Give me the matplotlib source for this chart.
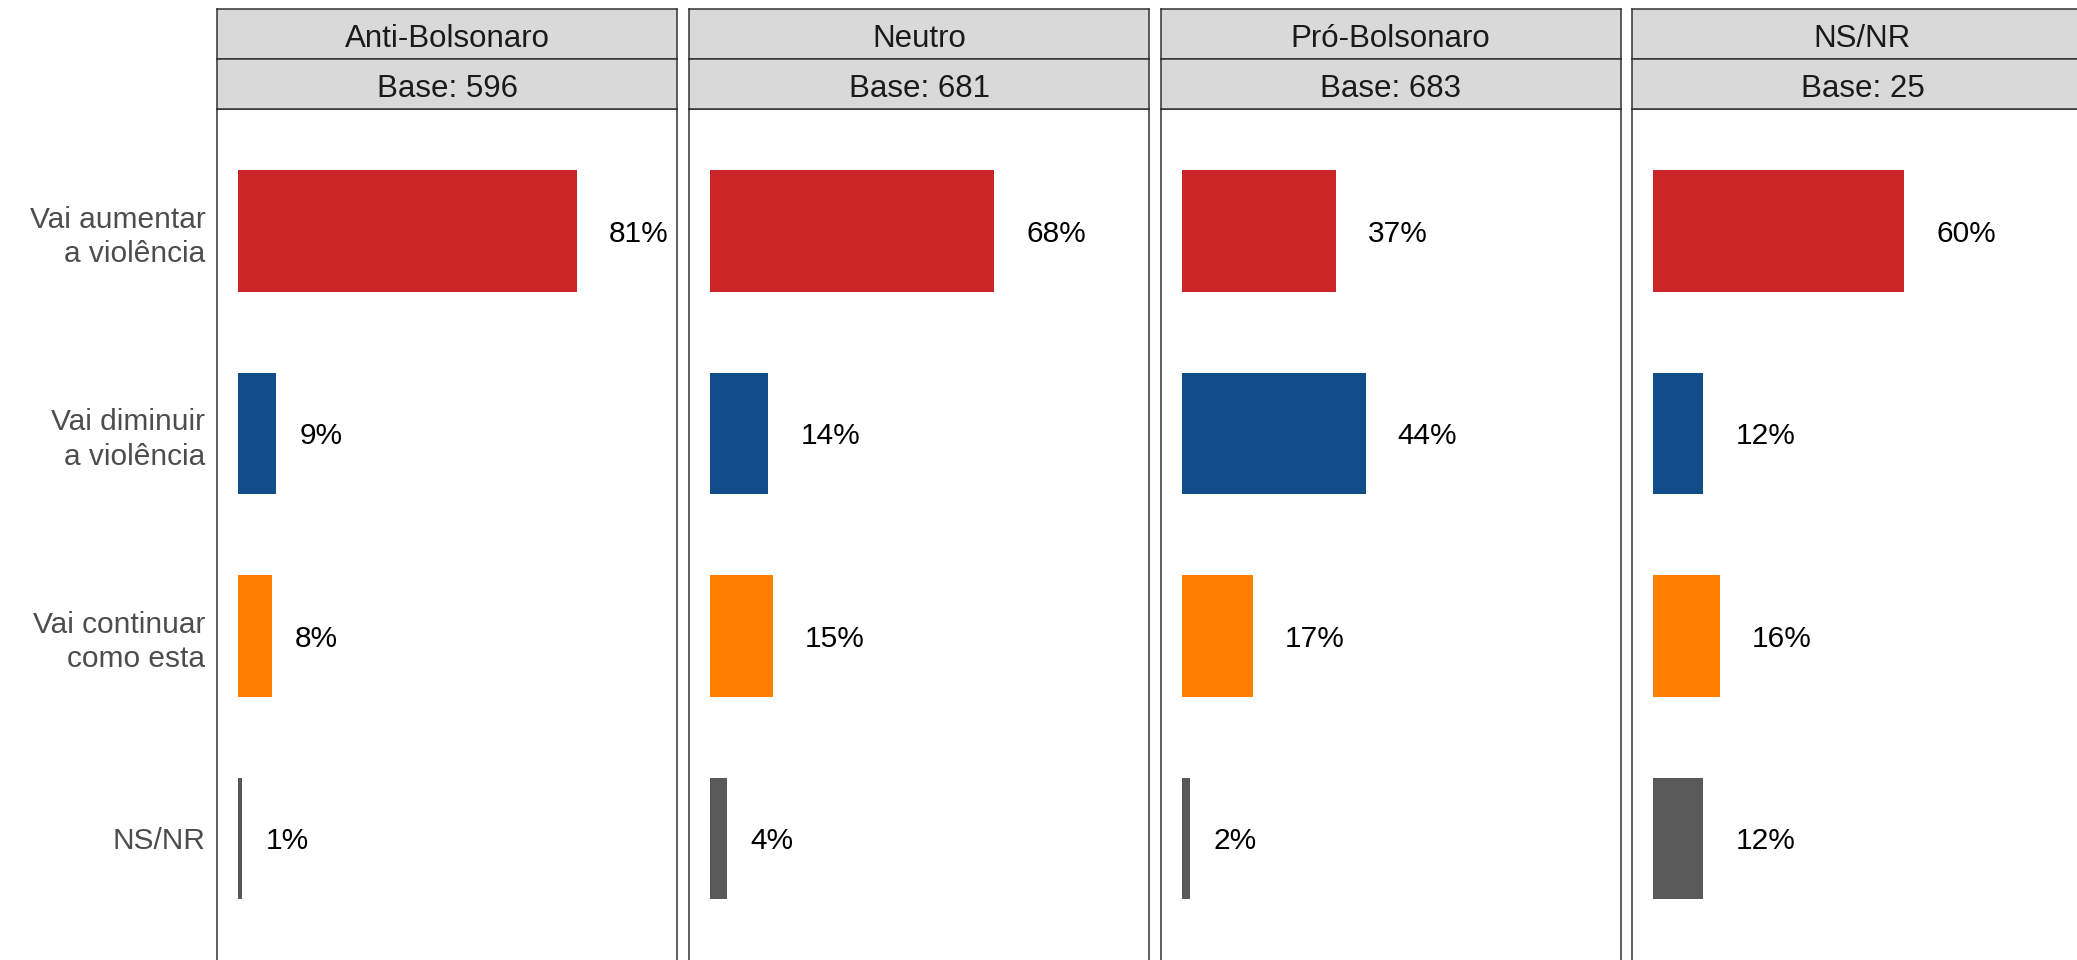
import matplotlib
matplotlib.use("Agg")
import matplotlib.pyplot as plt

plt.rcParams['font.family'] = ['Liberation Sans', 'DejaVu Sans']

groups = ["Anti-Bolsonaro", "Neutro", "Pró-Bolsonaro", "NS/NR"]
bases = [596, 681, 683, 25]
answers = ["Vai aumentar\na violência", "Vai diminuir\na violência",
           "Vai continuar\ncomo esta", "NS/NR"]
pct_anti = [81, 9, 8, 1]
pct_neutro = [68, 14, 15, 4]
pct_pro = [37, 44, 17, 2]
pct_nsnr = [60, 12, 16, 12]
values = [pct_anti, pct_neutro, pct_pro, pct_nsnr]
bar_colors = ["#CB2527", "#114E89", "#FF7F00", "#595959"]

W, H = 2077, 960
fig = plt.figure(figsize=(W / 100, H / 100), dpi=100)

panel_left = [217.3, 689.0, 1160.7, 1632.4]
panel_w = 460.0
panel_top = 109.2
strip_edges = [9.4, 58.8, 109.2]
edge_col = "#333333"

axes = []
for i, grp in enumerate(groups):
    x0 = panel_left[i] / W
    ax = fig.add_axes([x0, 0, panel_w / W, (H - panel_top) / H])
    ypos = list(range(1, len(answers) + 1))
    ax.barh(ypos, values[i], height=0.6, color=bar_colors, edgecolor="none")
    ax.set_xlim(-5, 105)
    ax.set_ylim(4.6, 0.4)
    ax.set_xticks([])
    ax.set_yticks(ypos)
    if i == 0:
        ax.set_yticklabels(answers, fontsize=21.5, color="#4D4D4D",
                           ha="right", linespacing=1.3)
    else:
        ax.set_yticklabels([])
    ax.tick_params(axis="y", length=0, pad=8.6)
    for side in ["left", "right", "top"]:
        ax.spines[side].set_color(edge_col)
        ax.spines[side].set_linewidth(1.1)
    ax.spines["bottom"].set_visible(False)
    axes.append(ax)

    # two strip rows above each panel
    strip_texts = [grp, "Base: %d" % bases[i]]
    for k in range(2):
        top, bot = strip_edges[k], strip_edges[k + 1]
        sax = fig.add_axes([x0, (H - bot) / H, panel_w / W, (bot - top) / H])
        sax.set_facecolor("#D9D9D9")
        sax.set_xticks([])
        sax.set_yticks([])
        for sp in sax.spines.values():
            sp.set_color(edge_col)
            sp.set_linewidth(1.1)
        sax.text(0.5, 0.48, strip_texts[k], ha="center", va="center_baseline",
                 fontsize=22.5, color="#1A1A1A", transform=sax.transAxes)

# value labels: left edge sits half a label width past the bar end
fig.canvas.draw()
renderer = fig.canvas.get_renderer()
for i, ax in enumerate(axes):
    px_per_unit = panel_w / 110.0
    for j, v in enumerate(values[i]):
        t = ax.text(v, j + 1, "%d%%" % v, fontsize=21.5, color="black",
                    ha="left", va="center_baseline")
        w = t.get_window_extent(renderer).width
        t.set_x(v + (0.5 * w + 2) / px_per_unit)

fig.savefig("out.png", dpi=100, facecolor="white")
